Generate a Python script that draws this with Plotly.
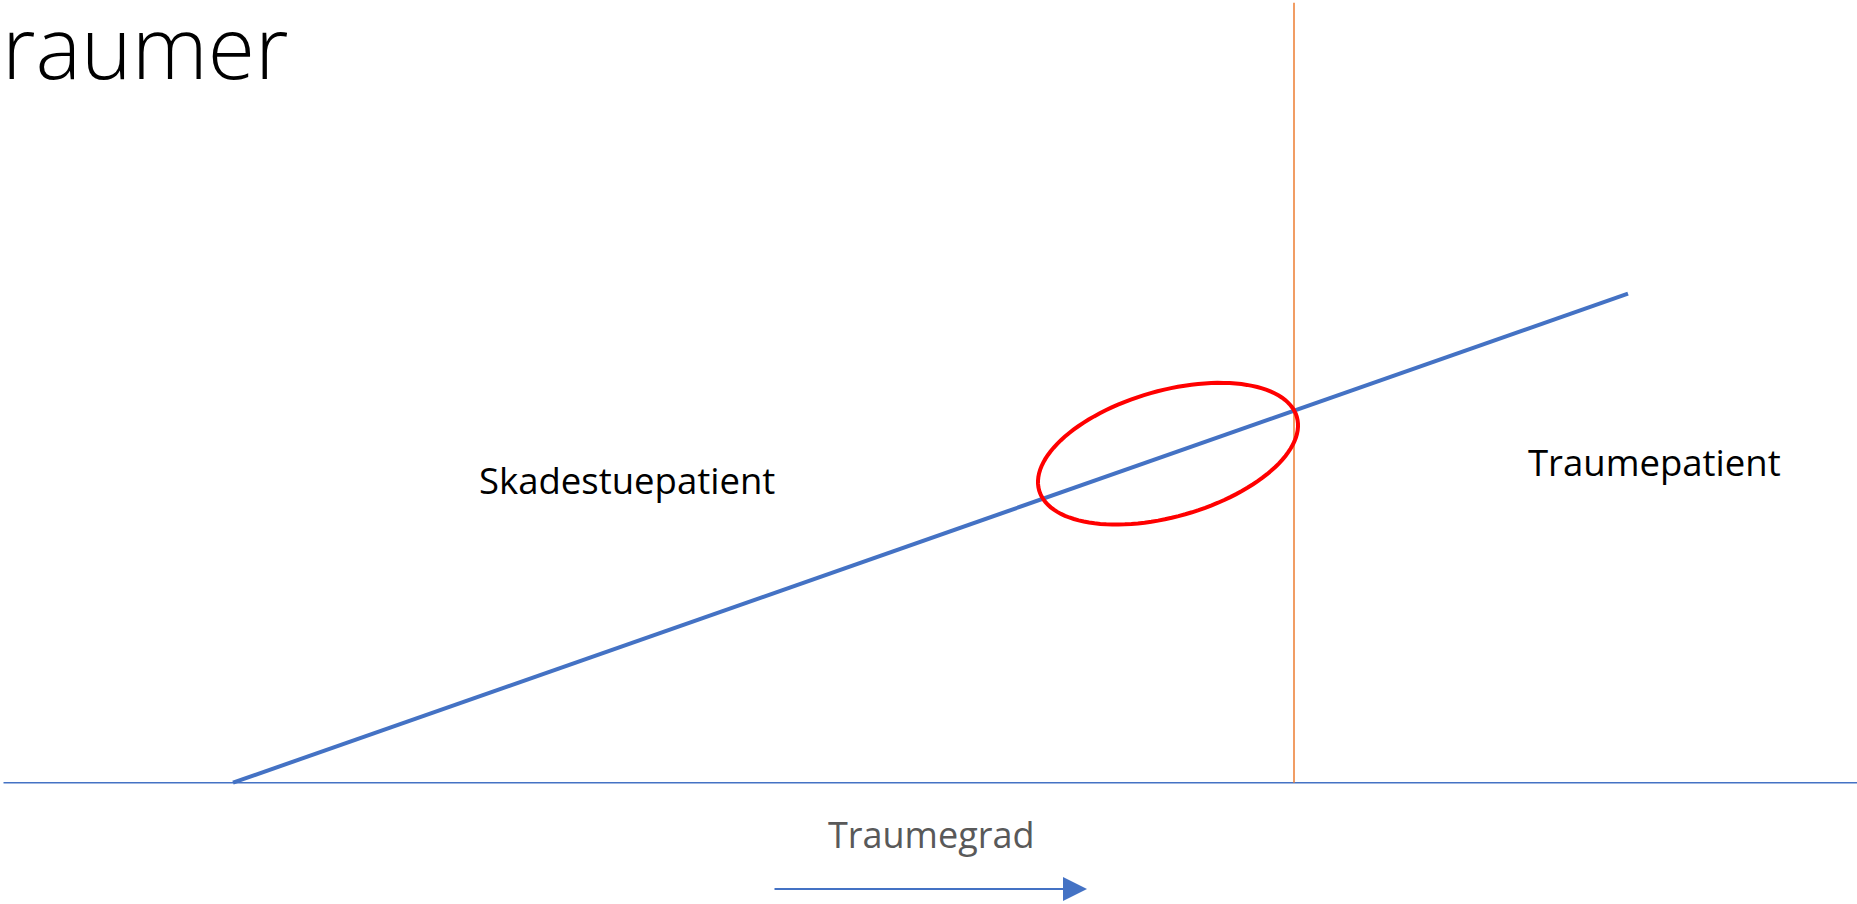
import numpy as np
import plotly.graph_objects as go

# ---- data (units: hundreds of pixels in the slide) ----
traumegrad = [2.33, 16.28]          # x of the severity line
alvorlighed = [0.0, 4.89]           # y of the severity line
threshold_x = 12.94                 # trauma-call threshold
threshold_top = 7.80
axis_x = [0.035, 18.57]
labels = ["Skadestuepatient", "Traumepatient"]
label_x = [6.27, 16.54]
label_y = [3.03, 3.21]
axis_title = "Traumegrad"
title_text = "raumer"

# ellipse highlighting the grey zone
ell_cx, ell_cy, ell_a, ell_b, ell_deg = 11.68, 3.29, 1.34, 0.63, 15.9

fig = go.Figure()
fig.add_trace(go.Scatter(x=traumegrad, y=alvorlighed, mode="lines",
                         line=dict(color="#4472C4", width=4), hoverinfo="skip",
                         showlegend=False))

t = np.linspace(0, 2 * np.pi, 121)
th = np.deg2rad(ell_deg)
ex = ell_cx + ell_a * np.cos(t) * np.cos(th) - ell_b * np.sin(t) * np.sin(th)
ey = ell_cy + ell_a * np.cos(t) * np.sin(th) + ell_b * np.sin(t) * np.cos(th)
path = "M " + " L ".join(f"{x:.4f},{y:.4f}" for x, y in zip(ex, ey)) + " Z"

shapes = [
    dict(type="line", x0=axis_x[0], x1=axis_x[1], y0=0, y1=0,
         line=dict(color="#4472C4", width=1.5), layer="below"),
    dict(type="line", x0=threshold_x, x1=threshold_x, y0=0, y1=threshold_top,
         line=dict(color="#ED7D31", width=1.5), layer="below"),
    dict(type="path", path=path, line=dict(color="#FF0000", width=4)),
]

font = "Open Sans, Lato, sans-serif"
annotations = [
    dict(x=0, y=7.37, xref="x", yref="y", text=title_text, showarrow=False,
         xanchor="left", yanchor="middle",
         font=dict(family=font, size=86, color="#000000", weight=300)),
    dict(x=label_x[0], y=label_y[0], xref="x", yref="y", text=labels[0], showarrow=False,
         xanchor="center", yanchor="middle", font=dict(family=font, size=36.5, color="#000000")),
    dict(x=label_x[1], y=label_y[1], xref="x", yref="y", text=labels[1], showarrow=False,
         xanchor="center", yanchor="middle", font=dict(family=font, size=36.5, color="#000000")),
    dict(x=9.31, y=-0.52, xref="x", yref="y", text=axis_title, showarrow=False,
         xanchor="center", yanchor="middle", font=dict(family=font, size=36, color="#595959")),
    dict(x=10.87, y=-1.063, ax=7.73, ay=-1.063, xref="x", yref="y", axref="x", ayref="y",
         text="", showarrow=True, arrowhead=2, arrowsize=2.4, arrowwidth=2,
         arrowcolor="#4472C4", standoff=0),
]

fig.update_layout(
    width=1857, height=904,
    margin=dict(l=0, r=0, t=0, b=0),
    paper_bgcolor="white", plot_bgcolor="white",
    xaxis=dict(range=[0, 18.57], visible=False, fixedrange=True),
    yaxis=dict(range=[-1.213, 7.827], visible=False, fixedrange=True),
    shapes=shapes, annotations=annotations,
)
fig.write_html("out.html", config={"displayModeBar": False},
               post_script="document.body.style.margin='0';document.body.style.overflow='hidden';")
